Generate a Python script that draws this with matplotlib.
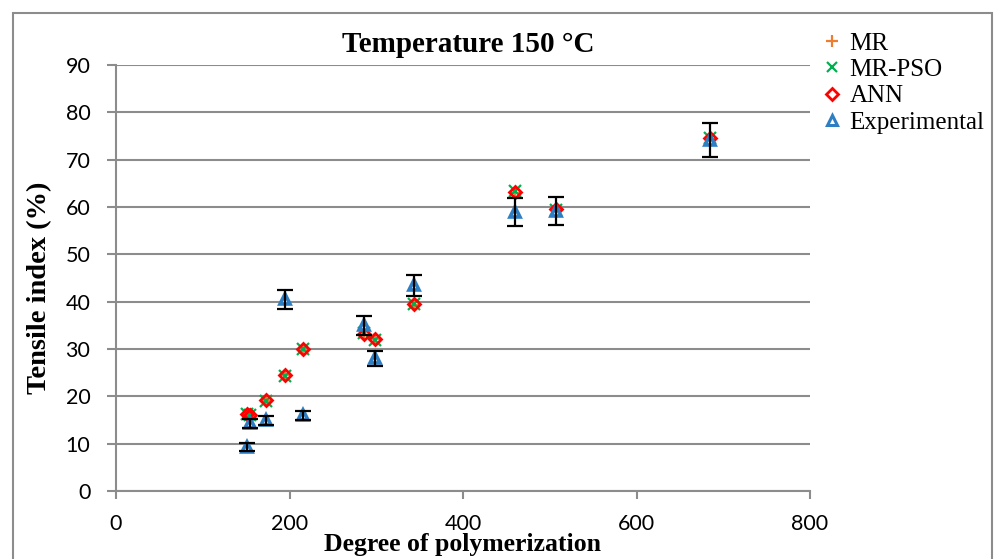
"""Tensile index versus degree of polymerization at 150 °C."""

import matplotlib

matplotlib.use("Agg")
import matplotlib.pyplot as plt
from matplotlib.lines import Line2D
from matplotlib.patches import Rectangle

DP = [151, 155, 173, 195, 215, 286, 299, 343, 460, 507, 685]

MR = [16.1, 16.3, 19.0, 24.6, 29.8, 33.0, 32.2, 39.4, 63.0, 59.6, 74.3]
MR_PSO = [16.3, 16.1, 19.1, 24.4, 30.0, 33.3, 32.0, 39.6, 63.4, 59.4, 74.6]
ANN = [16.2, 16.0, 19.2, 24.5, 29.9, 33.2, 32.1, 39.5, 63.2, 59.5, 74.5]

EXP_DP = [151, 154, 173, 195, 215, 286, 299, 343, 460, 507, 685]
EXPERIMENTAL = [9.3, 14.3, 14.9, 40.5, 16.0, 35.0, 28.0, 43.5, 59.0, 59.2, 74.2]
EXP_ERR = [0.8, 1.0, 1.0, 2.0, 1.0, 2.0, 1.5, 2.2, 3.0, 3.0, 3.6]

X_TICKS = [0, 200, 400, 600, 800]
Y_TICKS = list(range(0, 91, 10))

GRID = "#8c8c8c"
ORANGE = "#ED7D31"
GREEN = "#00B050"
RED = "#FF0000"
BLUE = "#2E7EC4"

SERIF = ["Liberation Serif", "DejaVu Serif"]
SANS = ["Lato", "DejaVu Sans"]

fig = plt.figure(figsize=(10.01, 5.59), dpi=100)
ax = fig.add_axes([0.1159, 0.1216, 0.8092 - 0.1159, 0.8837 - 0.1216])

# outer chart frame (bottom edge runs past the picture)
fig.patches.append(
    Rectangle((13 / 1001, -0.2), (992 - 13) / 1001, 1.2 - 13 / 559,
              transform=fig.transFigure, fill=False, edgecolor=GRID,
              linewidth=1.5, clip_on=False)
)

ax.plot(DP, MR, linestyle="none", marker="+", markersize=9,
        markeredgewidth=1.6, color=ORANGE, zorder=3)
ax.plot(DP, MR_PSO, linestyle="none", marker="x", markersize=8,
        markeredgewidth=1.6, color=GREEN, zorder=4)
ax.plot(DP, ANN, linestyle="none", marker="D", markersize=6.5,
        markeredgewidth=2.0, markerfacecolor="none", color=RED, zorder=5)
ax.plot(EXP_DP, EXPERIMENTAL, linestyle="none", marker="^", markersize=7.5,
        markeredgewidth=2.6, markerfacecolor="white", color=BLUE, zorder=6)
ax.errorbar(EXP_DP, EXPERIMENTAL, yerr=EXP_ERR, fmt="none", ecolor="black",
            elinewidth=1.6, capsize=6, capthick=1.6, zorder=7)

ax.set_xlim(0, 800)
ax.set_ylim(0, 90)
ax.set_xticks(X_TICKS)
ax.set_yticks(Y_TICKS)
ax.yaxis.grid(True, color=GRID, linewidth=1.5)
ax.set_axisbelow(True)

for side in ("top", "right"):
    ax.spines[side].set_visible(False)
for side in ("left", "bottom"):
    ax.spines[side].set_color(GRID)
    ax.spines[side].set_linewidth(1.5)

ax.tick_params(axis="y", direction="out", length=6.5, width=1.5,
               color=GRID, pad=12, labelsize=15.5)
ax.tick_params(axis="x", direction="out", length=5.5, width=1.5,
               color=GRID, pad=11, labelsize=15.5)
for lab in ax.get_xticklabels() + ax.get_yticklabels():
    lab.set_fontfamily(SANS)

fig.text(0.468, 1 - 45 / 559, "Temperature 150 °C", ha="center",
         va="center", fontsize=21, fontweight="bold", family=SERIF)
fig.text(40 / 1001, 1 - 288 / 559, "Tensile index (%)", ha="center",
         va="center", rotation=90, fontsize=20.5, fontweight="bold",
         family=SERIF)
fig.text(0.462, 1 - 545 / 559, "Degree of polymerization", ha="center",
         va="center", fontsize=18.5, fontweight="bold", family=SERIF)

handles = [
    Line2D([], [], linestyle="none", marker="+", markersize=9,
           markeredgewidth=1.6, color=ORANGE),
    Line2D([], [], linestyle="none", marker="x", markersize=7,
           markeredgewidth=1.6, color=GREEN),
    Line2D([], [], linestyle="none", marker="D", markersize=6,
           markeredgewidth=2.0, markerfacecolor="none", color=RED),
    Line2D([], [], linestyle="none", marker="^", markersize=7,
           markeredgewidth=2.2, markerfacecolor="none", color=BLUE),
]
fig.legend(handles, ["MR", "MR-PSO", "ANN", "Experimental"],
           loc="upper left", bbox_to_anchor=(822 / 1001, 1 - 32 / 559),
           frameon=False, prop={"family": SERIF, "size": 18},
           handlelength=0.8, handletextpad=0.3, labelspacing=0.16,
           borderpad=0, borderaxespad=0)

fig.savefig("out.png", dpi=100)
